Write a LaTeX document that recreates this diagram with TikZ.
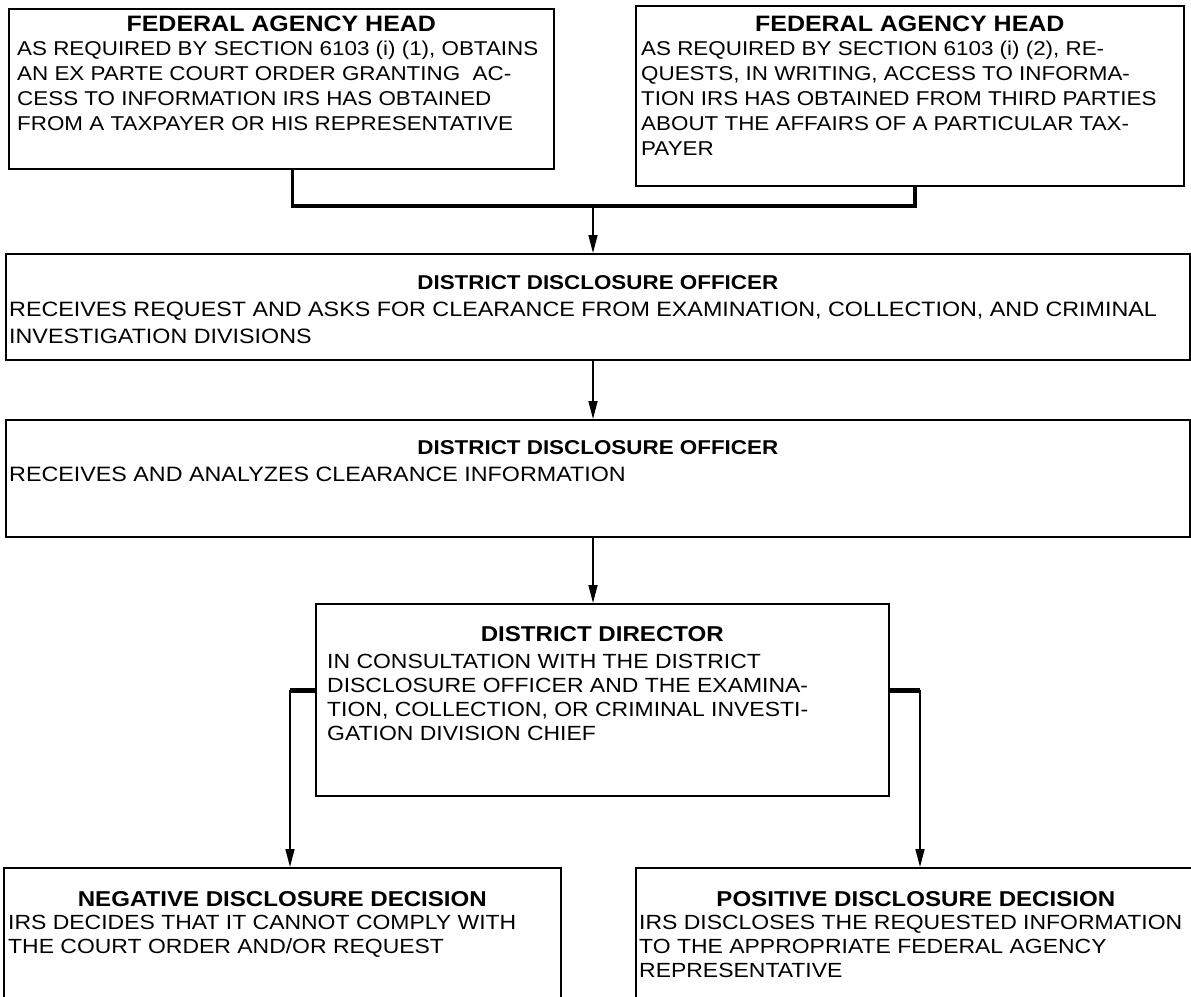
\documentclass[tikz,border=0pt]{standalone}
\usepackage{fontspec}
\setmainfont{Liberation Sans}
\newfontfamily\widefont[FakeStretch=1.12]{Liberation Sans}
\usetikzlibrary{positioning,arrows.meta}

\tikzset{
  stage/.style={draw, line width=1.6pt, anchor=north west, inner sep=0pt},
  headA/.style={inner sep=0pt, font=\widefont\bfseries\fontsize{22.3}{25}\selectfont},
  bodyA/.style={inner sep=0pt, align=left, font=\widefont\fontsize{20}{25}\selectfont},
  headB/.style={inner sep=0pt, font=\widefont\bfseries\fontsize{20}{27}\selectfont},
  bodyB/.style={inner sep=0pt, align=left, font=\widefont\fontsize{20.8}{27}\selectfont},
  headC/.style={inner sep=0pt, font=\widefont\bfseries\fontsize{21.5}{24}\selectfont},
  bodyC/.style={inner sep=0pt, align=left, font=\widefont\fontsize{20.5}{24}\selectfont},
  flow/.style={-{Triangle[length=18pt,width=9pt]}, line width=1.6pt},
  merge/.style={line width=3.5pt},
  stub/.style={line width=5pt}
}

\begin{document}
\begin{tikzpicture}[x=1pt, y=-1pt]
\useasboundingbox (0,0) rectangle (1191,996);

% requests from the agencies
\node (agencyA) [stage, minimum width=545pt, minimum height=160pt] at (8,8) {};
\node (agencyAhead) [headA, below=8pt of agencyA.north] {FEDERAL AGENCY HEAD};
\node (agencyAtext) [bodyA, below right=33pt and 9pt of agencyA.north west] {AS REQUIRED BY SECTION 6103 (i) (1), OBTAINS\\AN EX PARTE COURT ORDER GRANTING\ \ AC-\\CESS TO INFORMATION IRS HAS OBTAINED\\FROM A TAXPAYER OR HIS REPRESENTATIVE};

\node (agencyB) [stage, minimum width=548pt, minimum height=180pt] at (635,5) {};
\node (agencyBhead) [headA, below=11pt of agencyB.north] {FEDERAL AGENCY HEAD};
\node (agencyBtext) [bodyA, below right=36pt and 6pt of agencyB.north west] {AS REQUIRED BY SECTION 6103 (i) (2), RE-\\QUESTS, IN WRITING, ACCESS TO INFORMA-\\TION IRS HAS OBTAINED FROM THIRD PARTIES\\ABOUT THE AFFAIRS OF A PARTICULAR TAX-\\PAYER};

% disclosure officer
\node (request) [stage, minimum width=1184pt, minimum height=106pt] at (5,253) {};
\node (requesthead) [headB, below=22pt of request.north] {DISTRICT DISCLOSURE OFFICER};
\node (requesttext) [bodyB, below right=49pt and 4pt of request.north west] {RECEIVES REQUEST AND ASKS FOR CLEARANCE FROM EXAMINATION, COLLECTION, AND CRIMINAL\\INVESTIGATION DIVISIONS};

\node (analysis) [stage, minimum width=1184pt, minimum height=117pt] at (5,419) {};
\node (analysishead) [headB, below=21pt of analysis.north] {DISTRICT DISCLOSURE OFFICER};
\node (analysistext) [bodyB, below right=48pt and 4pt of analysis.north west] {RECEIVES AND ANALYZES CLEARANCE INFORMATION};

% director
\node (director) [stage, minimum width=573pt, minimum height=192pt] at (315,603) {};
\node (directorhead) [headC, below=23pt of director.north] {DISTRICT DIRECTOR};
\node (directortext) [bodyC, below right=51pt and 12pt of director.north west] {IN CONSULTATION WITH THE DISTRICT\\DISCLOSURE OFFICER AND THE EXAMINA-\\TION, COLLECTION, OR CRIMINAL INVESTI-\\GATION DIVISION CHIEF};

% decisions
\node (negative) [stage, minimum width=557pt, minimum height=150pt] at (3,867) {};
\node (negativehead) [headC, below=24pt of negative.north] {NEGATIVE DISCLOSURE DECISION};
\node (negativetext) [bodyC, below right=48pt and 5pt of negative.north west] {IRS DECIDES THAT IT CANNOT COMPLY WITH\\THE COURT ORDER AND/OR REQUEST};

\node (positive) [stage, minimum width=560pt, minimum height=150pt] at (635,867) {};
\node (positivehead) [headC, below=24pt of positive.north] {POSITIVE DISCLOSURE DECISION};
\node (positivetext) [bodyC, below right=48pt and 4pt of positive.north west] {IRS DISCLOSES THE REQUESTED INFORMATION\\TO THE APPROPRIATE FEDERAL AGENCY\\REPRESENTATIVE};

\coordinate (join) at (593,206);
\coordinate (splitL) at (290,690);
\coordinate (splitR) at (920,690);

\draw[merge] ([xshift=11pt]agencyA.south) |- (join) -| ([xshift=5pt]agencyB.south);
\draw[flow] (join) -- (join |- request.north);
\draw[flow] (join |- request.south) -- (join |- analysis.north);
\draw[flow] (join |- analysis.south) -- (join |- director.north);
\draw[stub] (director.west |- splitL) -- (splitL);
\draw[stub] (director.east |- splitR) -- (splitR);
\draw[flow] (splitL) -- (splitL |- negative.north);
\draw[flow] (splitR) -- (splitR |- positive.north);

\end{tikzpicture}
\end{document}
